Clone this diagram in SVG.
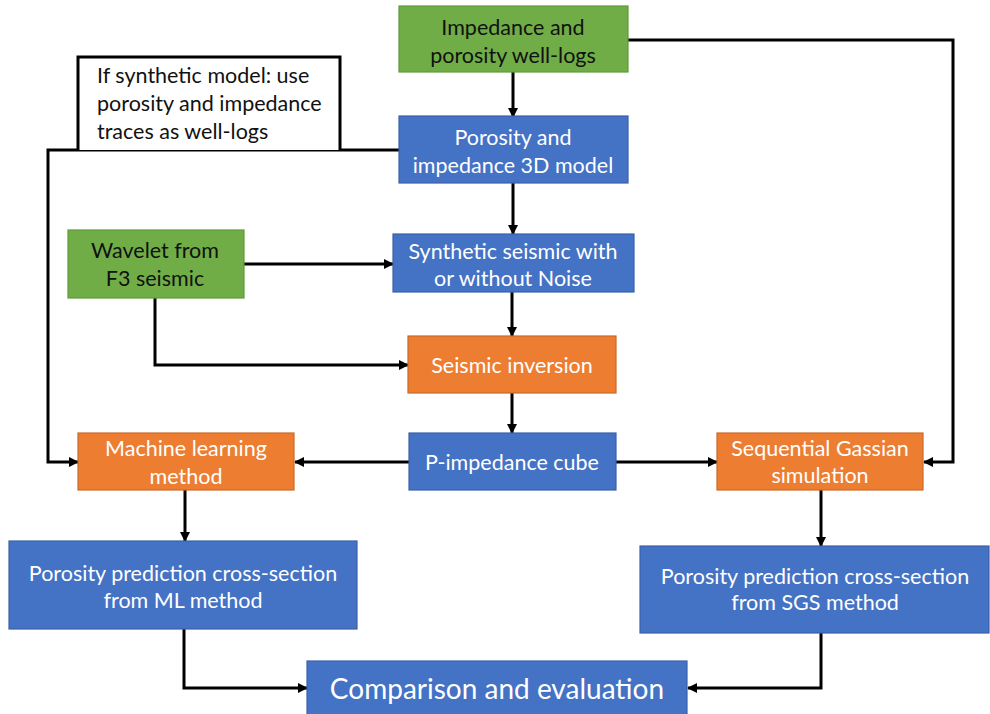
<svg xmlns="http://www.w3.org/2000/svg" width="990" height="714" viewBox="0 0 990 714">
  <style>
    .box { stroke-width: 1.2; }
    .green { fill: #70AD47; stroke: #5E9A3A; }
    .blue { fill: #4472C4; stroke: #3A62AB; }
    .orange { fill: #ED7D31; stroke: #C96A28; }
    .note { fill: #FFFFFF; stroke: #000000; stroke-width: 3; }
    text { font-family: "Lato", "Open Sans", sans-serif; font-size: 21.5px; dominant-baseline: central; }
    .dark { fill: #111111; text-anchor: middle; }
    .light { fill: #FFFFFF; text-anchor: middle; }
    .left { fill: #111111; text-anchor: start; }
    .big { font-size: 28px; }
    .wire { fill: none; stroke: #000000; stroke-width: 3; }
  </style>
  <defs>
    <marker id="arrow" viewBox="0 0 10 10" refX="9" refY="5" markerWidth="3.4" markerHeight="3.4" orient="auto" markerUnits="strokeWidth">
      <path d="M0,0 L10,5 L0,10 Z" fill="#000000"/>
    </marker>
  </defs>

  <rect width="990" height="714" fill="#FFFFFF"/>

  <!-- connectors -->
  <g id="connectors">
    <path class="wire" d="M513,72 V117" marker-end="url(#arrow)"/>
    <path class="wire" d="M628,40 H953 V462 H924" marker-end="url(#arrow)"/>
    <path class="wire" d="M399,150 H48 V462 H78" marker-end="url(#arrow)"/>
    <path class="wire" d="M513,183 V234" marker-end="url(#arrow)"/>
    <path class="wire" d="M244,264 H393" marker-end="url(#arrow)"/>
    <path class="wire" d="M155,298 V365 H408" marker-end="url(#arrow)"/>
    <path class="wire" d="M512,292 V336" marker-end="url(#arrow)"/>
    <path class="wire" d="M512,393 V433" marker-end="url(#arrow)"/>
    <path class="wire" d="M409,462 H295" marker-end="url(#arrow)"/>
    <path class="wire" d="M616,462 H717" marker-end="url(#arrow)"/>
    <path class="wire" d="M185,490 V541" marker-end="url(#arrow)"/>
    <path class="wire" d="M821,490 V546" marker-end="url(#arrow)"/>
    <path class="wire" d="M184,629 V688 H307" marker-end="url(#arrow)"/>
    <path class="wire" d="M821,633 V688 H688" marker-end="url(#arrow)"/>
  </g>

  <g id="note">
    <path class="note" d="M78,150 V57 H340 V150"/>
    <text class="left" x="97" y="75">If synthetic model: use</text>
    <text class="left" x="97" y="103">porosity and impedance</text>
    <text class="left" x="97" y="131">traces as well-logs</text>
  </g>

  <g id="well-logs">
    <rect class="box green" x="399" y="6" width="229" height="66"/>
    <text class="dark" x="513" y="27">Impedance and</text>
    <text class="dark" x="513" y="55">porosity well-logs</text>
  </g>

  <g id="model-3d">
    <rect class="box blue" x="399" y="116" width="229" height="67"/>
    <text class="light" x="513" y="137">Porosity and</text>
    <text class="light" x="513" y="165">impedance 3D model</text>
  </g>

  <g id="wavelet">
    <rect class="box green" x="68" y="230" width="176" height="68"/>
    <text class="dark" x="155" y="250">Wavelet from</text>
    <text class="dark" x="155" y="278">F3 seismic</text>
  </g>

  <g id="synthetic">
    <rect class="box blue" x="393" y="234" width="241" height="58"/>
    <text class="light" x="513" y="251">Synthetic seismic with</text>
    <text class="light" x="513" y="278">or without Noise</text>
  </g>

  <g id="inversion">
    <rect class="box orange" x="408" y="336" width="208" height="57"/>
    <text class="light" x="512" y="365">Seismic inversion</text>
  </g>

  <g id="p-impedance">
    <rect class="box blue" x="409" y="433" width="207" height="57"/>
    <text class="light" x="512" y="462">P-impedance cube</text>
  </g>

  <g id="ml-method">
    <rect class="box orange" x="78" y="433" width="216" height="57"/>
    <text class="light" x="186" y="448">Machine learning</text>
    <text class="light" x="186" y="476">method</text>
  </g>

  <g id="sgs">
    <rect class="box orange" x="717" y="433" width="206" height="57"/>
    <text class="light" x="820" y="448">Sequential Gassian</text>
    <text class="light" x="820" y="475">simulation</text>
  </g>

  <g id="ml-result">
    <rect class="box blue" x="9" y="541" width="348" height="88"/>
    <text class="light" x="183" y="573">Porosity prediction cross-section</text>
    <text class="light" x="183" y="600">from ML method</text>
  </g>

  <g id="sgs-result">
    <rect class="box blue" x="640" y="546" width="349" height="87"/>
    <text class="light" x="815" y="576">Porosity prediction cross-section</text>
    <text class="light" x="815" y="602">from SGS method</text>
  </g>

  <g id="comparison">
    <rect class="box blue" x="307" y="661" width="380" height="54"/>
    <text class="light big" x="497" y="688">Comparison and evaluation</text>
  </g>
</svg>
